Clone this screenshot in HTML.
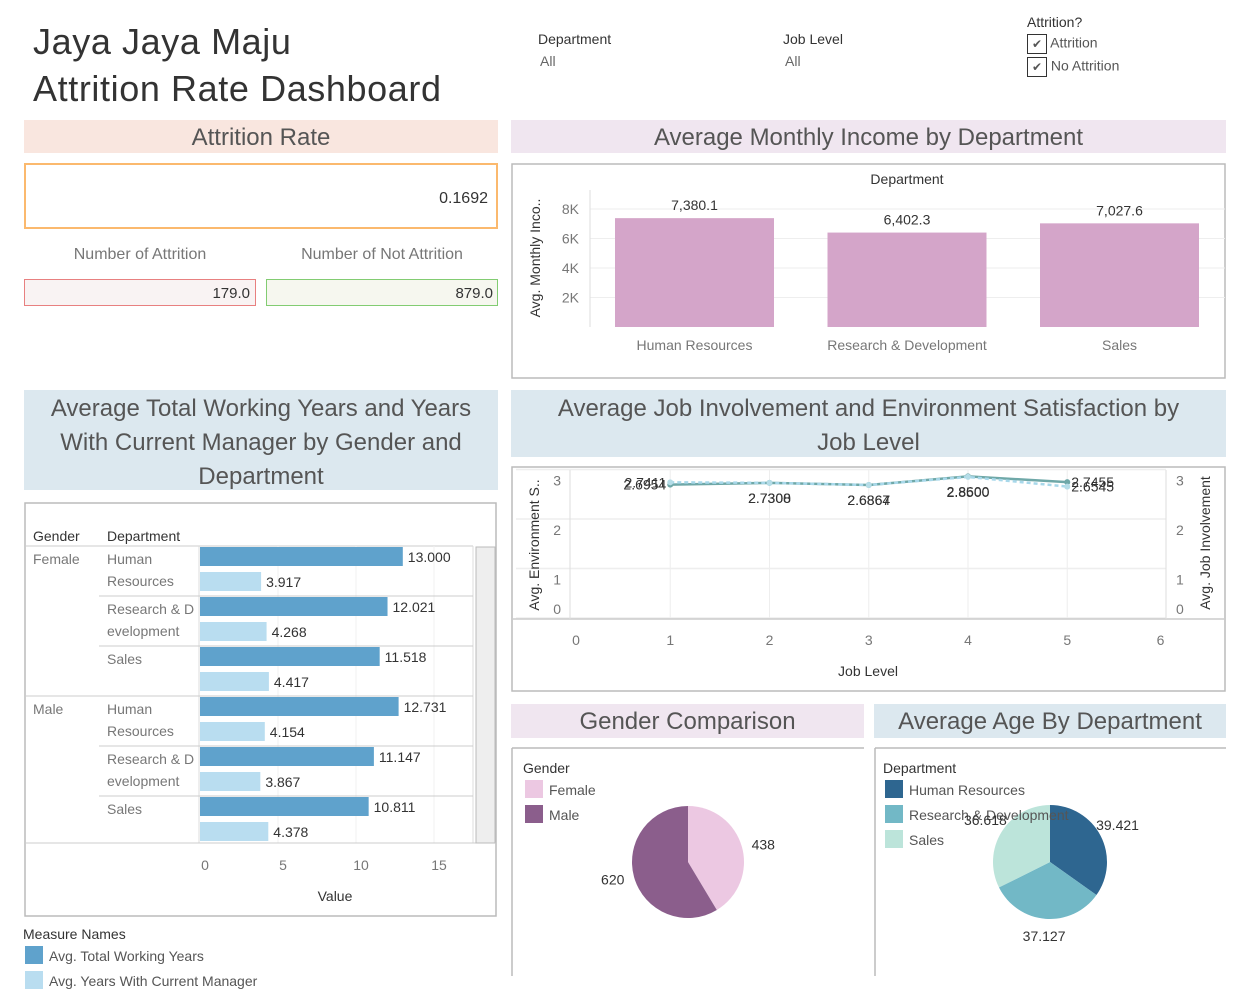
<!DOCTYPE html>
<html><head><meta charset="utf-8">
<style>
body{margin:0;width:1249px;height:999px;background:#fff;font-family:"Liberation Sans",sans-serif;position:relative;overflow:hidden;color:#333}
.a{position:absolute}
.hdr{position:absolute;text-align:center;color:#555;font-size:24px}
svg text{font-family:"Liberation Sans",sans-serif}
</style></head><body>
<div class="a" style="left:33px;top:18px;font-size:36px;letter-spacing:0.6px;line-height:47px;color:#333">Jaya Jaya Maju<br>Attrition Rate Dashboard</div>
<div class="a" style="left:538px;top:31px;font-size:14px">Department<div style="color:#666;margin:6px 0 0 2px">All</div></div>
<div class="a" style="left:783px;top:31px;font-size:14px">Job Level<div style="color:#666;margin:6px 0 0 2px">All</div></div>
<div class="a" style="left:1027px;top:14px;font-size:14px">Attrition?
 <div style="margin-top:4px;color:#555"><span style="display:inline-block;width:18px;height:18px;border:1px solid #333;text-align:center;font-size:12px;line-height:18px;vertical-align:middle">✔</span> Attrition</div>
 <div style="margin-top:3px;color:#555"><span style="display:inline-block;width:18px;height:18px;border:1px solid #333;text-align:center;font-size:12px;line-height:18px;vertical-align:middle">✔</span> No Attrition</div>
</div>

<div class="hdr" style="left:24px;top:120px;width:474px;height:33px;line-height:35px;background:#f9e6df">Attrition Rate</div>
<div class="a" style="left:24px;top:163px;width:470px;height:62px;border:2px solid #fbb96e;text-align:right;font-size:16px;line-height:68px"><span style="margin-right:8px">0.1692</span></div>
<div class="a" style="left:24px;top:246px;width:232px;text-align:center;font-size:16px;color:#777">Number of Attrition</div>
<div class="a" style="left:266px;top:246px;width:232px;text-align:center;font-size:16px;color:#777">Number of Not Attrition</div>
<div class="a" style="left:24px;top:279px;width:230px;height:25px;border:1px solid #e88080;background:#f9f3f3;text-align:right;font-size:15px;line-height:28px"><span style="margin-right:5px">179.0</span></div>
<div class="a" style="left:266px;top:279px;width:230px;height:25px;border:1px solid #82cc72;background:#f6f7ef;text-align:right;font-size:15px;line-height:28px"><span style="margin-right:4px">879.0</span></div>

<div class="hdr" style="left:511px;top:120px;width:715px;height:33px;line-height:35px;background:#f0e6f0">Average Monthly Income by Department</div>
<div class="hdr" style="left:24px;top:390px;width:474px;height:100px;line-height:34px;background:#dce8ef;padding:2px 12px 0;box-sizing:border-box">Average Total Working Years and Years With Current Manager by Gender and Department</div>
<div class="hdr" style="left:511px;top:390px;width:715px;height:67px;line-height:34px;background:#dce8ef;padding:2px 40px 0;box-sizing:border-box">Average Job Involvement and Environment Satisfaction by Job Level</div>
<div class="hdr" style="left:511px;top:704px;width:353px;height:34px;line-height:36px;background:#f0e6f0">Gender Comparison</div>
<div class="hdr" style="left:874px;top:704px;width:352px;height:34px;line-height:36px;background:#dce8ef">Average Age By Department</div>

<svg id="chart" class="a" style="left:0;top:0" width="1249" height="999"></svg>

<script>
// Income chart data
const incDepts=["Human Resources","Research & Development","Sales"];
const incValues=[7380.1,6402.3,7027.6];
const incTicks=[2000,4000,6000,8000];
const incTickLabels=["2K","4K","6K","8K"];
// Line chart data
const jobLevels=[1,2,3,4,5];
const envSat=[2.6954,2.7308,2.6864,2.8600,2.7455];
const jobInv=[2.7411,2.7300,2.6867,2.8500,2.6545];
const lineYTicks=[0,1,2,3];
const lineXTicks=[0,1,2,3,4,5,6];
// Bar chart data
const barGenders=["Female","Male"];
const barDepts=[["Human","Resources"],["Research & D","evelopment"],["Sales",""]];
const totalWorking=[13.000,12.021,11.518,12.731,11.147,10.811];
const yearsMgr=[3.917,4.268,4.417,4.154,3.867,4.378];
const barXTicks=[0,5,10,15];
// Gender pie
const genderNames=["Female","Male"];
const genderCounts=[438,620];
// Age pie
const ageDepts=["Human Resources","Research & Development","Sales"];
const ageValues=[39.421,37.127,36.618];

const svg=document.getElementById('chart');
const NS="http://www.w3.org/2000/svg";
function el(t,a,p){const e=document.createElementNS(NS,t);for(const k in a)e.setAttribute(k,a[k]);(p||svg).appendChild(e);return e;}
function tx(x,y,s,a){const e=el('text',Object.assign({x:x,y:y,'font-size':14,fill:'#333'},a||{}));e.textContent=s;return e;}

// ---- Income chart frame
let f=el('rect',{x:512,y:164,width:713,height:214,fill:'none',stroke:'#bbb','stroke-width':1.5});


tx(907,184,"Department",{'text-anchor':'middle'});
const incY=v=>327-v/1000*14.75;
incTicks.forEach((t,i)=>{
  const g=el('line',{x1:590,x2:1225,y1:incY(t),y2:incY(t),stroke:'#eee'});
  
  
  tx(579,incY(t)+5,incTickLabels[i],{'text-anchor':'end',fill:'#777'});
});
el('line',{x1:590,x2:590,y1:190,y2:327,stroke:'#ddd'});
tx(0,0,"Avg. Monthly Inco..",{transform:'translate(540,258) rotate(-90)','text-anchor':'middle'});
incDepts.forEach((d,i)=>{
  const x=615+i*212.5;
  const r=el('rect',{x:x,y:incY(incValues[i]),width:159,height:327-incY(incValues[i]),fill:'#d4a5c9'});
  
  
  tx(x+79.5,incY(incValues[i])-8,incValues[i].toLocaleString('en-US',{minimumFractionDigits:1}),{'text-anchor':'middle'});
  tx(x+79.5,350,d,{'text-anchor':'middle',fill:'#777'});
});

// ---- Line chart
f=el('rect',{x:512,y:467,width:713,height:224,fill:'none',stroke:'#bbb','stroke-width':1.5});


const lx=v=>571+v*99.25, ly=v=>618-v*49.5;
lineYTicks.forEach(t=>{
  el('line',{x1:516,x2:1166,y1:ly(t),y2:ly(t),stroke:'#eee','stroke-width':1.5});
  tx(561,ly(t)+(t==0?-4:16),String(t),{'text-anchor':'end',fill:'#777'});
  tx(1176,ly(t)+(t==0?-4:16),String(t),{fill:'#777'});
});
lineXTicks.forEach(t=>{
  if(t>0&&t<6) el('line',{x1:lx(t),x2:lx(t),y1:470,y2:618,stroke:'#eee'});
  tx(lx(t)+ (t==0?5:(t==6?-6:0)),645,String(t),{'text-anchor':'middle',fill:'#777'});
});
el('line',{x1:512,x2:1225,y1:619,y2:619,stroke:'#ccc','stroke-width':1.5});
el('line',{x1:570,x2:570,y1:470,y2:619,stroke:'#ddd'});
el('line',{x1:1166,x2:1166,y1:470,y2:619,stroke:'#ddd'});
tx(868,676,"Job Level",{'text-anchor':'middle'});
tx(0,0,"Avg. Environment S..",{transform:'translate(539,545) rotate(-90)','text-anchor':'middle'});
tx(0,0,"Avg. Job Involvement",{transform:'translate(1210,543) rotate(-90)','text-anchor':'middle'});
let p=el('polyline',{points:jobLevels.map((l,i)=>lx(l)+','+ly(envSat[i])).join(' '),fill:'none',stroke:'#6fa8a8','stroke-width':2.5});


p=el('polyline',{points:jobLevels.map((l,i)=>lx(l)+','+ly(jobInv[i])).join(' '),fill:'none',stroke:'#a8d8ea','stroke-width':2.5,'stroke-dasharray':'4,3'});


jobLevels.forEach((l,i)=>{
  el('circle',{cx:lx(l),cy:ly(envSat[i]),r:3,fill:'#6fa8a8'});
  el('circle',{cx:lx(l),cy:ly(jobInv[i]),r:3,fill:'#b5dde8'});
  const dx = l==1?-4:(l==5?4:0), anc = l==1?'end':(l==5?'start':'middle');
  const dy = (l==1||l==5)?5:20;
  tx(lx(l)+dx,ly(envSat[i])+dy,envSat[i].toFixed(4),{'text-anchor':anc});
  tx(lx(l)+dx,ly(jobInv[i])+dy,jobInv[i].toFixed(4),{'text-anchor':anc});
});

// ---- Bar chart
f=el('rect',{x:25,y:503,width:471,height:413,fill:'none',stroke:'#bbb','stroke-width':1.5});


tx(33,541,"Gender");tx(107,541,"Department");
el('line',{x1:25,x2:473,y1:546,y2:546,stroke:'#ccc'});
el('line',{x1:199,x2:199,y1:546,y2:843,stroke:'#ddd'});
el('line',{x1:473,x2:473,y1:546,y2:843,stroke:'#ddd'});
const bx=v=>200+v*15.6;
barXTicks.forEach(t=>{
  if(t>0) el('line',{x1:bx(t),x2:bx(t),y1:546,y2:843,stroke:'#f0f0f0'});
  tx(bx(t)+5,870,String(t),{'text-anchor':'middle',fill:'#777'});
});
tx(335,901,"Value",{'text-anchor':'middle'});
el('line',{x1:25,x2:496,y1:843,y2:843,stroke:'#ccc'});
el('rect',{x:476,y:547,width:19,height:296,fill:'#eee',stroke:'#bbb'});
barGenders.forEach((g,gi)=>{
  const gy=546+gi*150;
  tx(33,gy+18,g,{fill:'#777'});
  if(gi>0) el('line',{x1:25,x2:473,y1:gy,y2:gy,stroke:'#ccc'});
  barDepts.forEach((d,di)=>{
    const y=gy+di*50, k=gi*3+di;
    if(di>0) el('line',{x1:99,x2:473,y1:y,y2:y,stroke:'#ccc'});
    tx(107,y+18,d[0],{fill:'#777'});tx(107,y+40,d[1],{fill:'#777'});
    let r=el('rect',{x:200,y:y+1,width:bx(totalWorking[k])-200,height:19,fill:'#5fa2cc'});
    
    
    tx(bx(totalWorking[k])+5,y+16,totalWorking[k].toFixed(3));
    r=el('rect',{x:200,y:y+26,width:bx(yearsMgr[k])-200,height:19,fill:'#b9ddf0'});
    
    
    tx(bx(yearsMgr[k])+5,y+41,yearsMgr[k].toFixed(3));
  });
});
tx(23,939,"Measure Names");
el('rect',{x:25,y:946,width:18,height:18,fill:'#5fa2cc'});tx(49,961,"Avg. Total Working Years",{fill:'#555'});
el('rect',{x:25,y:971,width:18,height:18,fill:'#b9ddf0'});tx(49,986,"Avg. Years With Current Manager",{fill:'#555'});

// ---- Pies
function pie(cx,cy,r,vals,cols,name){
  const tot=vals.reduce((a,b)=>a+b,0);let a0=0;const mids=[];
  vals.forEach((v,i)=>{
    const a1=a0+v/tot*2*Math.PI;
    const x0=cx+r*Math.sin(a0),y0=cy-r*Math.cos(a0),x1=cx+r*Math.sin(a1),y1=cy-r*Math.cos(a1);
    const s=el('path',{d:`M${cx},${cy}L${x0},${y0}A${r},${r} 0 ${a1-a0>Math.PI?1:0} 1 ${x1},${y1}Z`,fill:cols[i]});
    
    
    mids.push((a0+a1)/2);a0=a1;
  });
  return mids;
}
el('line',{x1:512,x2:512,y1:748,y2:976,stroke:'#bbb','stroke-width':1.5});
el('line',{x1:512,x2:864,y1:748,y2:748,stroke:'#bbb','stroke-width':1.5});
tx(523,773,"Gender");
const gCols=['#ecc8e2','#8b5e8c'];
genderNames.forEach((n,i)=>{el('rect',{x:525,y:780+i*25,width:18,height:18,fill:gCols[i]});tx(549,795+i*25,n,{fill:'#555'});});
let m=pie(688,862,56,genderCounts,gCols,'gender-slice');
m.forEach((a,i)=>{const x=688+66*Math.sin(a),y=862-66*Math.cos(a)+5;tx(x,y,String(genderCounts[i]),{'text-anchor':Math.sin(a)>0?'start':'end'});});

el('line',{x1:875,x2:875,y1:748,y2:976,stroke:'#bbb','stroke-width':1.5});
el('line',{x1:875,x2:1226,y1:748,y2:748,stroke:'#bbb','stroke-width':1.5});
tx(883,773,"Department");
const aCols=['#2e6690','#72b8c6','#bce4da'];
m=pie(1050,862,57,ageValues,aCols,'age-slice');
ageDepts.forEach((n,i)=>{el('rect',{x:885,y:780+i*25,width:18,height:18,fill:aCols[i]});tx(909,795+i*25,n,{fill:'#555'});});
m.forEach((a,i)=>{const x=1050+76*Math.sin(a),y=862-76*Math.cos(a)+3;tx(x,y,ageValues[i].toFixed(3),{'text-anchor':'middle'});});
</script>
</body></html>
